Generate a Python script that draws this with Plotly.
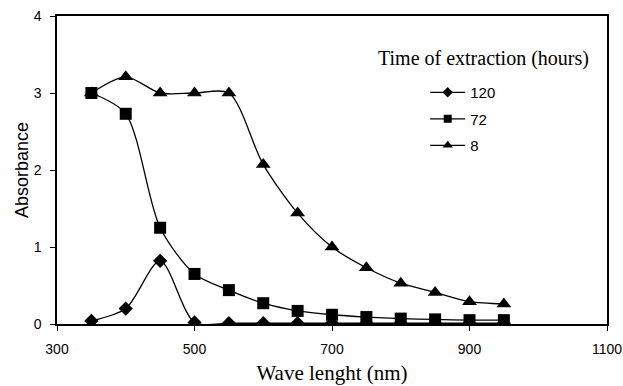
import plotly.graph_objects as go

wavelength = [350, 400, 450, 500, 550, 600, 650, 700, 750, 800, 850, 900, 950]
abs_120 = [0.04, 0.20, 0.82, 0.02, 0.01, 0.01, 0.01, 0.01, 0.01, 0.01, 0.01, 0.01, 0.01]
abs_72 = [3.00, 2.73, 1.25, 0.65, 0.44, 0.27, 0.17, 0.12, 0.09, 0.07, 0.06, 0.05, 0.05]
abs_8 = [3.00, 3.21, 3.00, 3.00, 3.00, 2.07, 1.44, 1.00, 0.73, 0.53, 0.41, 0.29, 0.26]
series_names = ["120", "72", "8"]
x_ticks = [300, 500, 700, 900, 1100]
y_ticks = [0, 1, 2, 3, 4]

symbols = ["diamond", "square", "triangle-up"]
sizes = [11, 12, 13]
legend_sizes = [8, 8, 9]

fig = go.Figure()
for i, (name, vals) in enumerate(zip(series_names, [abs_120, abs_72, abs_8])):
    fig.add_trace(go.Scatter(
        x=wavelength, y=vals, name=name, mode="lines+markers",
        line=dict(color="black", width=1.3, shape="spline", smoothing=0.8),
        marker=dict(symbol=symbols[i], size=sizes[i], color="black"),
        legendgroup=name, showlegend=False,
    ))
    # legend-only entry with smaller marker
    fig.add_trace(go.Scatter(
        x=[None], y=[None], name=name, mode="lines+markers",
        line=dict(color="black", width=1.3),
        marker=dict(symbol=symbols[i], size=legend_sizes[i], color="black"),
        legendgroup=name, showlegend=True,
    ))

axis_common = dict(
    showline=True, linecolor="black", linewidth=1.5, mirror=True,
    showgrid=False, zeroline=False, ticks="outside", ticklen=5,
    tickcolor="black", tickfont=dict(family="Liberation Sans", size=14, color="black"),
)

fig.update_layout(
    width=623, height=386,
    margin=dict(l=57, r=16, t=16, b=62, autoexpand=False),
    paper_bgcolor="white", plot_bgcolor="white",
    xaxis=dict(range=[300, 1100], tickvals=x_ticks, ticklabelstandoff=6, **axis_common,
               title=dict(text="Wave lenght (nm)", standoff=10,
                          font=dict(family="Liberation Serif", size=21, color="black"))),
    yaxis=dict(range=[0, 4], tickvals=y_ticks, ticklabelstandoff=6, **axis_common,
               title=dict(text="Absorbance", standoff=0,
                          font=dict(family="Liberation Sans", size=18, color="black"))),
    legend=dict(x=0.6695, y=0.805, xanchor="left", yanchor="top",
                bgcolor="rgba(0,0,0,0)", itemwidth=35, tracegroupgap=4,
                font=dict(family="Liberation Sans", size=15, color="black")),
    showlegend=True,
    annotations=[dict(text="Time of extraction (hours)", xref="paper", yref="paper",
                      x=0.776, y=0.862, xanchor="center", yanchor="middle", showarrow=False,
                      font=dict(family="Liberation Serif", size=20, color="black"))],
)

fig.write_html("out.html")
